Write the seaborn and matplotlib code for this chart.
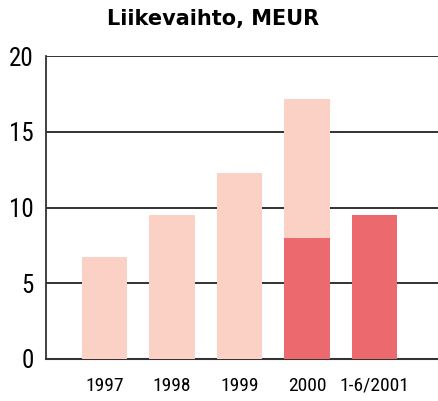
import matplotlib
matplotlib.use("Agg")
import matplotlib.pyplot as plt
from matplotlib import font_manager
import seaborn as sns
import pandas as pd

years = ["1997", "1998", "1999", "2000", "1-6/2001"]
total = [6.7, 9.5, 12.3, 17.2, 9.5]
dark_part = [0, 0, 0, 8.0, 9.5]

light = "#FBD0C5"
dark = "#EC6A6E"

# pick a condensed face if one is installed
names = {f.name for f in font_manager.fontManager.ttflist}
narrow = [n for n in ["Liberation Sans Narrow", "Roboto Condensed", "DejaVu Sans Condensed"] if n in names]

sns.set_style("white")
plt.rcParams['font.family'] = narrow[:1] + ['Roboto', 'DejaVu Sans']

df = pd.DataFrame({"year": years, "total": total, "dark": dark_part})

fig = plt.figure(figsize=(4.38, 4.01), dpi=100)
ax = fig.add_axes([0.106, 0.105, 0.894, 0.755])

sns.barplot(data=df, x="year", y="total", color=light, width=0.67, saturation=1,
            linewidth=0, ax=ax, zorder=3)
sns.barplot(data=df, x="year", y="dark", color=dark, width=0.67, saturation=1,
            linewidth=0, ax=ax, zorder=4)

ax.set_ylim(0, 20)
ax.set_xlim(-0.86, 4.94)
ax.set_yticks([0, 5, 10, 15, 20])
ax.yaxis.grid(True, color="#222222", linewidth=1.3, zorder=0)
ax.set_axisbelow(True)
for s in ["top", "right"]:
    ax.spines[s].set_visible(False)
ax.spines["left"].set_color("#333333")
ax.spines["left"].set_linewidth(1.3)
ax.spines["bottom"].set_color("#333333")
ax.spines["bottom"].set_linewidth(1.5)
ax.tick_params(axis="y", length=0, pad=9, labelsize=18, labelcolor="black")
ax.tick_params(axis="x", length=0, pad=13, labelsize=14, labelcolor="black")
ax.set_xlabel("")
ax.set_ylabel("")

fig.text(0.487, 0.952, "Liikevaihto, MEUR", ha="center", va="center",
         fontsize=15, fontweight="heavy", color="black", family=["DejaVu Sans"])

fig.savefig("out.png", dpi=100)
